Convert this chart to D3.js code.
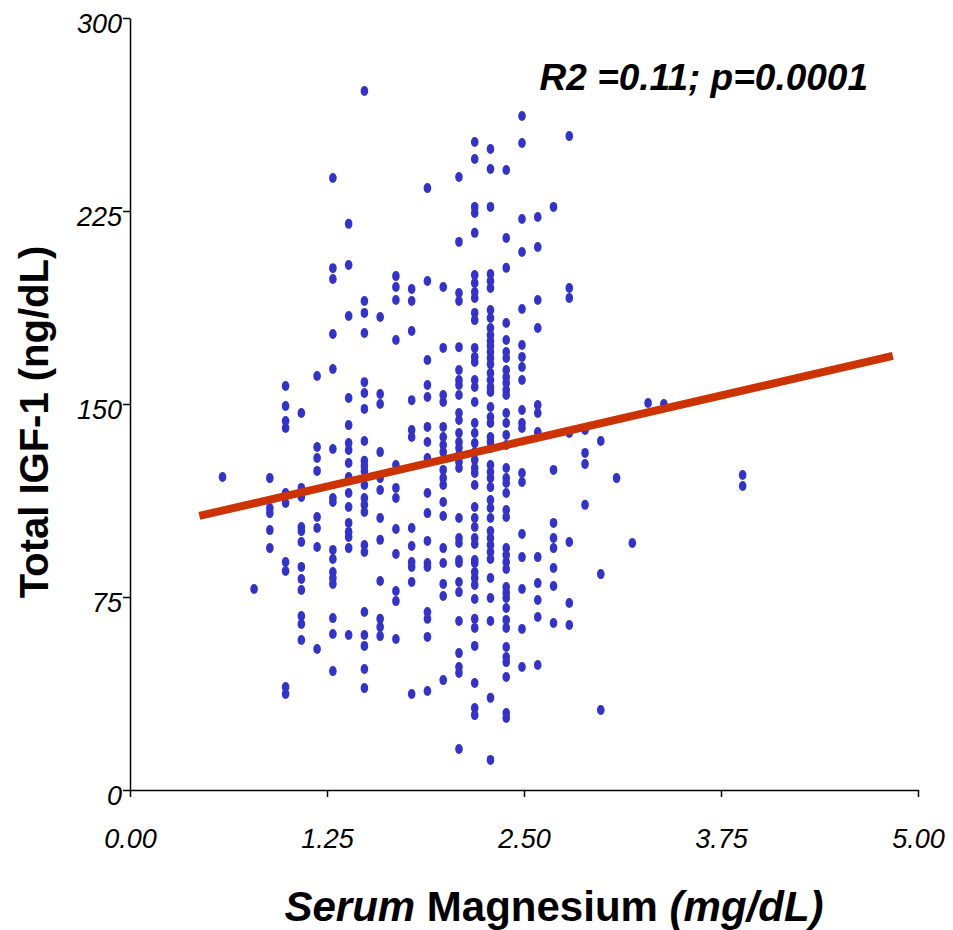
<!DOCTYPE html>
<html>
<head>
<meta charset="utf-8">
<script src="https://cdn.jsdelivr.net/npm/d3@7/dist/d3.min.js"></script>
<style>
  html, body { margin: 0; padding: 0; background: #fff; }
  svg { display: block; }
  text { font-family: "Liberation Sans", Arial, sans-serif; }
</style>
</head>
<body>
<svg id="chart" width="953" height="930"></svg>
<script>
// Serum magnesium (mg/dL) groups and the IGF-1 values (ng/dL) recorded at each
const magnesium = [0.6, 0.8, 0.9, 1.0, 1.1, 1.2, 1.3, 1.4, 1.5, 1.6, 1.7, 1.8, 1.9, 2.0,
  2.1, 2.2, 2.3, 2.4, 2.5, 2.6, 2.7, 2.8, 2.9, 3.0, 3.1, 3.2, 3.3, 3.4, 3.9];

const igf1 = [
  [121.6],
  [78.1],
  [121.2, 109.6, 107.6, 101.0, 94.0],
  [157.0, 149.2, 143.4, 140.7, 115.4, 111.5, 88.6, 85.1, 40.0, 37.3],
  [146.5, 117.4, 113.9, 102.2, 100.6, 96.4, 86.7, 82.0, 77.7, 67.6, 64.5, 58.3],
  [160.9, 133.3, 129.0, 124.0, 106.1, 101.8, 94.4, 54.8],
  [237.8, 202.8, 198.6, 177.2, 163.6, 132.5, 113.5, 111.9, 93.3, 89.8, 84.7, 82.4, 80.1, 66.8, 60.6, 46.2],
  [220.0, 204.0, 184.2, 152.3, 141.8, 134.8, 132.1, 127.1, 121.6, 115.4, 110.0, 103.8, 100.3, 98.3, 94.0, 60.2],
  [271.6, 190.0, 185.4, 177.6, 158.5, 154.3, 148.1, 135.6, 127.9, 125.9, 124.0, 118.5, 113.5, 110.8, 108.0, 95.2, 92.5, 69.2, 60.2, 56.0, 47.0, 39.6],
  [183.8, 153.9, 150.0, 131.3, 121.2, 116.6, 105.7, 97.2, 81.2, 66.5, 63.3, 59.8],
  [199.7, 195.5, 190.4, 174.9, 126.3, 117.4, 113.5, 101.4, 91.7, 77.3, 73.4, 58.7],
  [194.7, 190.0, 178.4, 151.5, 139.9, 137.2, 101.8, 94.8, 88.6, 86.7, 80.8, 37.3],
  [233.9, 197.8, 167.1, 157.4, 152.7, 141.1, 135.2, 129.0, 115.4, 107.6, 96.8, 88.2, 86.7, 69.2, 66.5, 59.5, 38.5],
  [195.5, 171.8, 153.5, 150.8, 141.1, 137.2, 134.1, 131.3, 124.4, 121.2, 118.5, 111.9, 106.5, 94.0, 88.2, 80.1, 75.4, 42.7],
  [238.2, 213.0, 193.1, 190.0, 172.1, 163.2, 159.3, 157.4, 153.5, 146.5, 143.8, 138.7, 135.2, 132.9, 130.2, 127.5, 125.1,
   105.7, 97.9, 96.0, 89.4, 88.2, 80.8, 76.9, 65.7, 53.2, 47.8, 45.5, 15.9],
  [251.8, 245.2, 226.6, 224.2, 216.5, 200.1, 197.0, 193.5, 191.2, 185.4, 182.6, 171.8, 168.3, 166.3, 159.3, 156.6, 150.8,
   142.6, 138.7, 134.8, 131.3, 128.2, 125.1, 123.2, 118.5, 110.0, 105.7, 102.2, 97.9, 95.6, 89.4, 88.2, 84.7, 82.4, 79.7,
   74.2, 66.5, 63.0, 56.0, 41.6, 31.9, 29.1],
  [249.1, 241.3, 226.6, 200.5, 197.8, 195.1, 186.5, 183.4, 179.5, 176.8, 174.5, 172.5, 170.2, 167.9, 165.5, 162.0, 159.3,
   156.6, 154.7, 148.8, 144.9, 142.6, 137.2, 135.2, 132.9, 126.3, 123.6, 121.2, 117.7, 112.7, 109.6, 105.7, 100.6, 97.9,
   95.2, 92.5, 89.8, 82.4, 74.6, 65.7, 35.8, 11.7],
  [240.9, 214.5, 202.9, 181.5, 174.9, 170.2, 167.9, 163.2, 160.5, 158.2, 155.4, 153.5, 146.5, 142.6, 138.0, 134.1, 125.1,
   121.2, 119.3, 115.4, 108.8, 106.1, 94.0, 91.3, 88.6, 85.9, 78.9, 76.6, 74.6, 70.7, 66.1, 63.0, 55.6, 51.7, 49.7, 43.9,
   29.9, 28.0],
  [261.9, 251.4, 221.9, 209.1, 186.9, 172.9, 168.3, 164.4, 159.3, 147.7, 142.6, 140.7, 123.2, 119.7, 99.5, 90.5, 78.1, 62.6, 47.8],
  [222.7, 211.0, 190.4, 179.5, 149.6, 146.5, 139.1, 90.5, 80.4, 73.8, 67.2, 48.6],
  [226.6, 124.4, 103.8, 97.9, 94.0, 86.3, 79.3, 64.9],
  [254.1, 195.1, 191.2, 138.7, 96.4, 72.7, 64.1],
  [139.9, 131.0, 126.7, 110.8],
  [135.6, 83.9, 31.1],
  [121.2],
  [96.0],
  [150.4],
  [150.0],
  [122.4, 118.1]
];

// Fitted regression line: start/end magnesium and predicted IGF-1
const fitX = [0.44, 4.84];
const fitY = [106.5, 168.7];

const xTicks = [0, 1.25, 2.5, 3.75, 5];
const yTicks = [0, 75, 150, 225, 300];
const annotation = "R2 =0.11; p=0.0001";

const svg = d3.select("#chart");
const margin = { left: 130, right: 35, top: 18, bottom: 140 };
const W = 953, H = 930;

const x = d3.scaleLinear().domain([0, 5]).range([margin.left, W - margin.right]);
const y = d3.scaleLinear().domain([0, 300]).range([H - margin.bottom, margin.top]);

const points = [];
magnesium.forEach((m, i) => igf1[i].forEach(v => points.push({ m, v })));

// Scatter points
svg.append("g")
  .selectAll("ellipse")
  .data(points)
  .join("ellipse")
  .attr("cx", d => x(d.m) - 2)
  .attr("cy", d => y(d.v))
  .attr("rx", 3.8)
  .attr("ry", 5)
  .attr("fill", "#3333cc");

// Regression line
svg.append("line")
  .attr("x1", x(fitX[0])).attr("y1", y(fitY[0]))
  .attr("x2", x(fitX[1])).attr("y2", y(fitY[1]))
  .attr("stroke", "#cc3300")
  .attr("stroke-width", 8);

// Axes
const xAxis = d3.axisBottom(x).tickValues(xTicks).tickFormat(d3.format(".2f")).tickSize(7).tickSizeOuter(0);
const yAxis = d3.axisLeft(y).tickValues(yTicks).tickFormat(d3.format("d")).tickSize(7).tickSizeOuter(0);

const gx = svg.append("g").attr("transform", `translate(0,${y(0)})`).call(xAxis);
const gy = svg.append("g").attr("transform", `translate(${x(0)},0)`).call(yAxis);

[gx, gy].forEach(g => {
  g.select(".domain").attr("stroke", "#000").attr("stroke-width", 1.5);
  g.selectAll(".tick line").attr("stroke", "#000").attr("stroke-width", 1.5);
  g.selectAll(".tick text")
    .attr("fill", "#000")
    .style("font-family", "'Liberation Sans', Arial, sans-serif")
    .style("font-size", "27px")
    .style("font-style", "italic");
});
gx.selectAll(".tick text").attr("y", 0).attr("dy", "2.15em");
gy.selectAll(".tick text").attr("x", -8).attr("dy", "0.55em");

// Axis titles
svg.append("text")
  .attr("transform", `translate(48,422) rotate(-90)`)
  .attr("text-anchor", "middle")
  .style("font-size", "40px")
  .style("font-weight", "bold")
  .text("Total IGF-1 (ng/dL)");

const xt = svg.append("text")
  .attr("x", 554).attr("y", 921)
  .attr("text-anchor", "middle")
  .style("font-size", "42px")
  .style("font-weight", "bold");
xt.append("tspan").style("font-style", "italic").text("Serum");
xt.append("tspan").text(" Magnesium ");
xt.append("tspan").style("font-style", "italic").text(" (mg/dL)");

// Statistics annotation
svg.append("text")
  .attr("x", 868).attr("y", 90)
  .attr("text-anchor", "end")
  .style("font-size", "37px")
  .style("font-weight", "bold")
  .style("font-style", "italic")
  .text(annotation);
</script>
</body>
</html>
